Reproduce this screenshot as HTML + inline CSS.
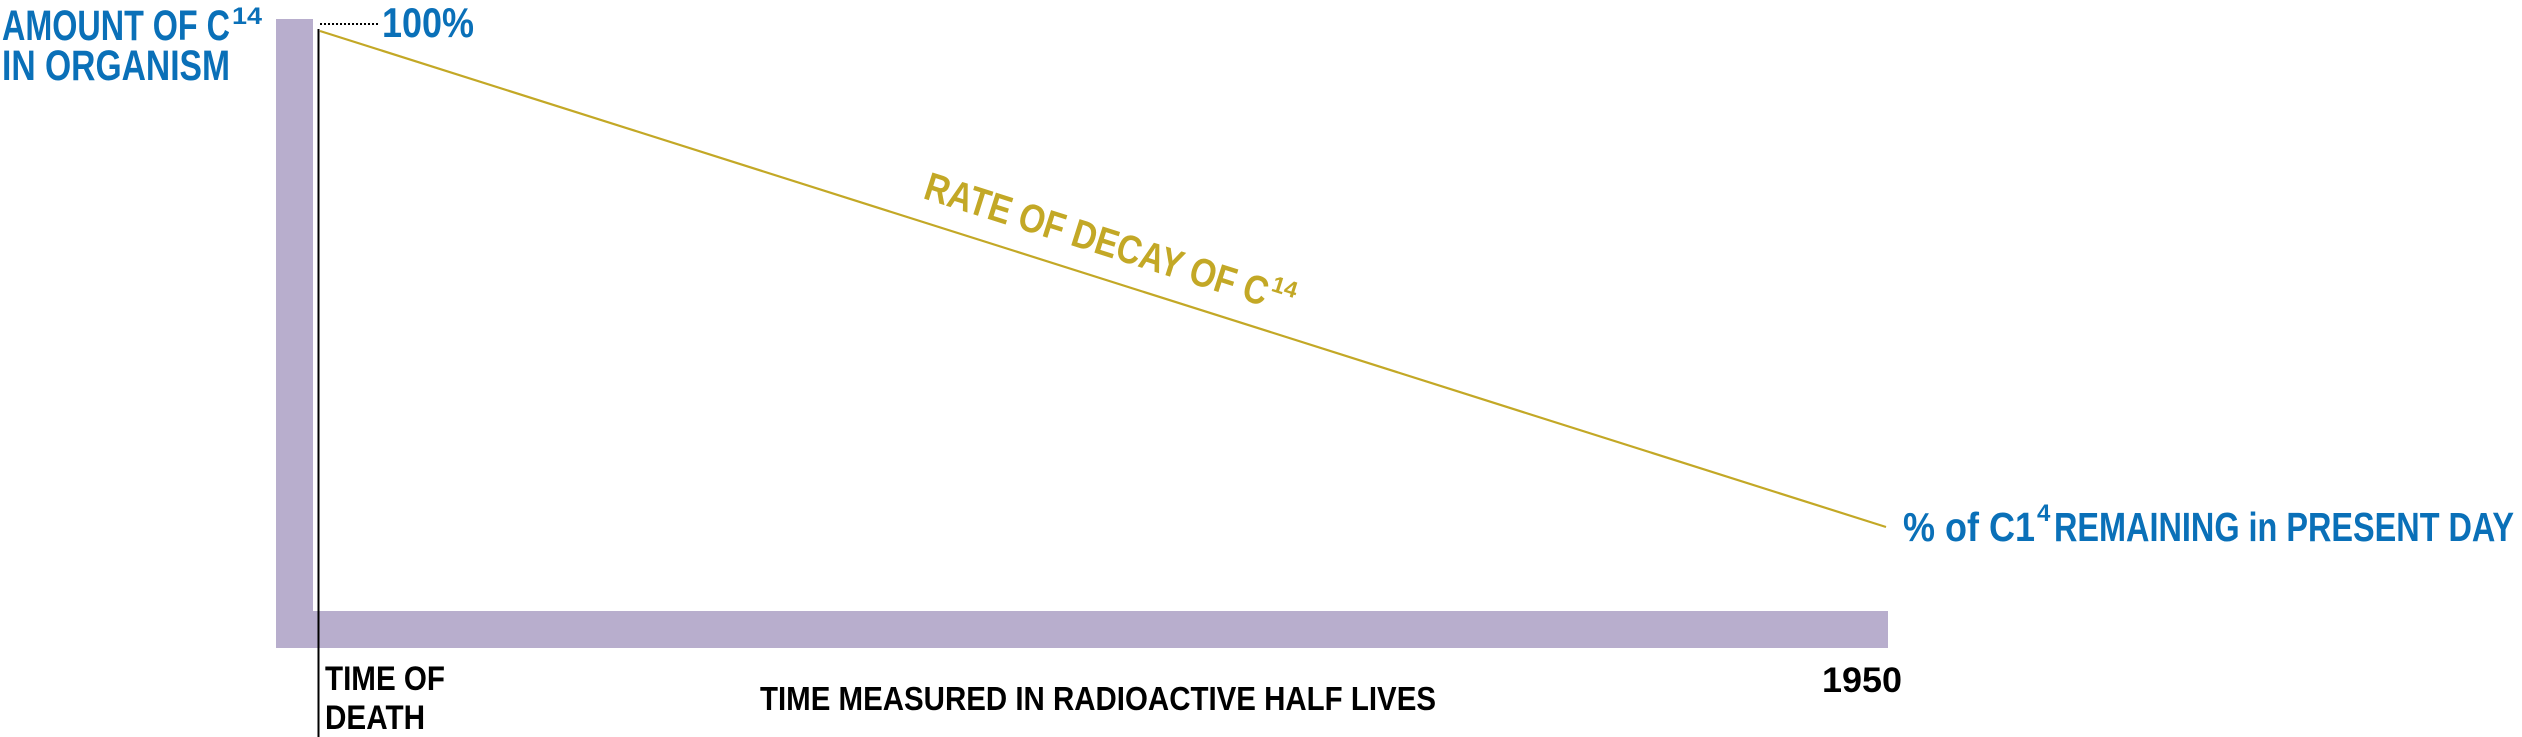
<!DOCTYPE html>
<html><head><meta charset="utf-8"><style>
html,body{margin:0;padding:0;background:#fff}
svg{display:block}
text{font-family:"Liberation Sans",sans-serif;font-weight:bold}
</style></head><body>
<svg width="2522" height="737" viewBox="0 0 2522 737" xmlns="http://www.w3.org/2000/svg">
<rect x="276" y="19" width="37" height="629" fill="#b8aecd"/>
<rect x="276" y="611" width="1612" height="37" fill="#b8aecd"/>
<line x1="318.5" y1="29" x2="318.5" y2="737" stroke="#000" stroke-width="2"/>
<line x1="320" y1="24" x2="378" y2="24" stroke="#000" stroke-width="2" stroke-dasharray="2,2"/>
<line x1="320" y1="31" x2="1886" y2="527" stroke="#c3a826" stroke-width="2.2"/>
<g fill="#0a70b8">
<text x="2" y="40" font-size="43" textLength="228" lengthAdjust="spacingAndGlyphs">AMOUNT OF C</text>
<text x="232" y="24" font-size="24" textLength="30" lengthAdjust="spacingAndGlyphs">14</text>
<text x="2" y="80" font-size="43" textLength="228" lengthAdjust="spacingAndGlyphs">IN ORGANISM</text>
<text x="382" y="37" font-size="42" textLength="92" lengthAdjust="spacingAndGlyphs">100%</text>
<text x="1903" y="541" font-size="41" textLength="132" lengthAdjust="spacingAndGlyphs">% of C1</text>
<text x="2037" y="521" font-size="24">4</text>
<text x="2054" y="541" font-size="41" textLength="460" lengthAdjust="spacingAndGlyphs">REMAINING in PRESENT DAY</text>
</g>
<g fill="#000">
<text x="325" y="690" font-size="34" textLength="120" lengthAdjust="spacingAndGlyphs">TIME OF</text>
<text x="325" y="729" font-size="34" textLength="100" lengthAdjust="spacingAndGlyphs">DEATH</text>
<text x="760" y="710" font-size="33" textLength="676" lengthAdjust="spacingAndGlyphs">TIME MEASURED IN RADIOACTIVE HALF LIVES</text>
<text x="1822" y="692" font-size="35" textLength="80" lengthAdjust="spacingAndGlyphs">1950</text>
</g>
<g fill="#c3a826" transform="translate(922,198) rotate(17.6)">
<text x="0" y="0" font-size="40" textLength="358" lengthAdjust="spacingAndGlyphs">RATE OF DECAY OF C</text>
<text x="360" y="-17" font-size="23">14</text>
</g>
</svg>
</body></html>
